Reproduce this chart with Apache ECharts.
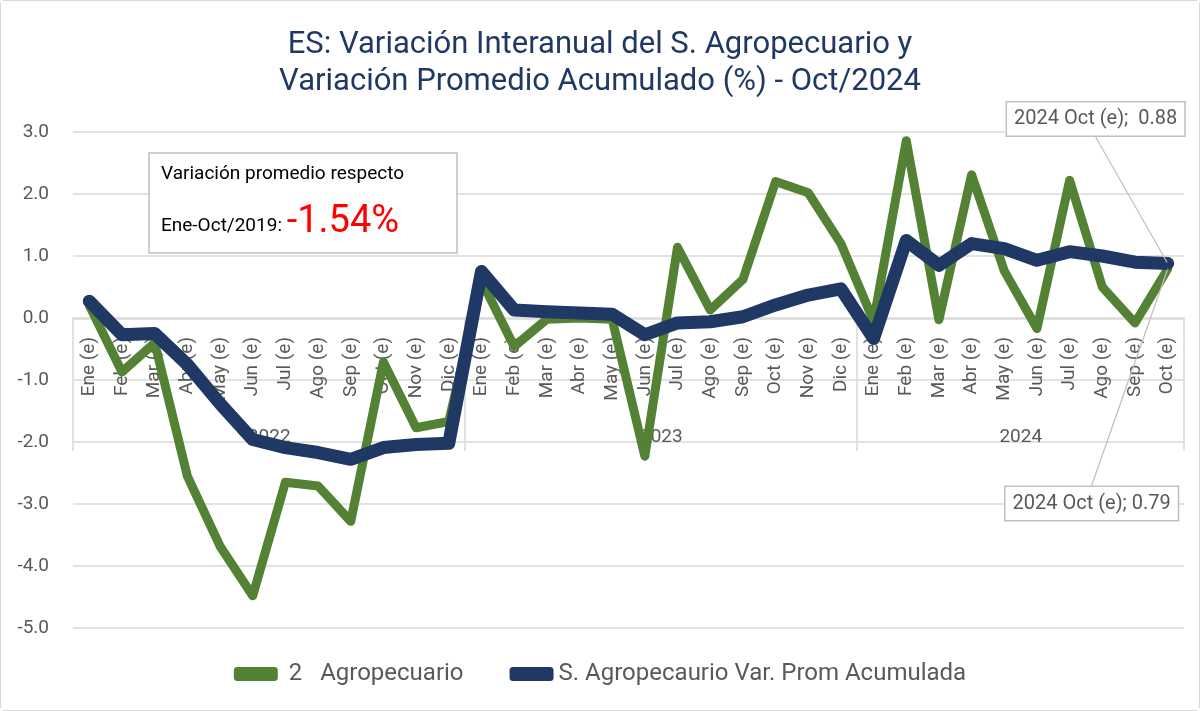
<!DOCTYPE html>
<html>
<head>
<meta charset="utf-8">
<script src="https://cdn.jsdelivr.net/npm/echarts@6/dist/echarts.min.js"></script>
<style>
  html, body { margin: 0; padding: 0; background: #fff; }
  #chart { width: 1200px; height: 711px; box-sizing: border-box; border: 1px solid #d9d9d9; border-radius: 4px; }
</style>
</head>
<body>
<div id="chart"></div>
<script>
// meses (e) de ene-2022 a oct-2024
const meses = ['Ene', 'Feb', 'Mar', 'Abr', 'May', 'Jun', 'Jul', 'Ago', 'Sep', 'Oct', 'Nov', 'Dic'];
const anios = ['2022', '2023', '2024'];
const mesesPorAnio = [12, 12, 10];

const agropecuario = [
  0.20, -0.87, -0.40, -2.55, -3.68, -4.48, -2.65, -2.71, -3.28, -0.71, -1.77, -1.67,
  0.60, -0.46, -0.02, 0.00, -0.02, -2.23, 1.14, 0.13, 0.62, 2.20, 2.02, 1.20,
  -0.05, 2.86, -0.03, 2.31, 0.76, -0.17, 2.22, 0.50, -0.08, 0.79
];
const promAcumulada = [
  0.27, -0.27, -0.25, -0.75, -1.38, -1.96, -2.09, -2.17, -2.28, -2.09, -2.04, -2.02,
  0.75, 0.13, 0.10, 0.08, 0.06, -0.27, -0.08, -0.06, 0.02, 0.21, 0.37, 0.47,
  -0.33, 1.25, 0.85, 1.20, 1.12, 0.93, 1.07, 1.00, 0.90, 0.88
];

const categorias = [];
const etiquetaAnio = [];
anios.forEach((a, i) => {
  for (let m = 0; m < mesesPorAnio[i]; m++) {
    categorias.push(meses[m] + ' (e)');
    etiquetaAnio.push(a);
  }
});

const FONT = 'Roboto, "DejaVu Sans Condensed", sans-serif';
const GRIS = '#595959';
const VERDE = '#548235';
const AZUL = '#1f3864';
const ult = categorias.length - 1;

// indices where a year starts, and the label spot (middle of each year)
const inicioAnio = [0, 12, 24];
const medioAnio = [5, 17, 28];

const etiquetaFinal = {
  show: true,
  fontFamily: FONT, fontSize: 20, color: GRIS,
  backgroundColor: '#fff', borderColor: '#bfbfbf', borderWidth: 1.5, padding: [7, 7, 6, 7]
};

// only the last point carries a (tiny) symbol so its callout label can show
function conEtiqueta(arr, sep) {
  return arr.map((v, i) => i === ult
    ? { value: v, symbol: 'circle', symbolSize: 2,
        label: Object.assign({ formatter: '2024 Oct (e);' + sep + v.toFixed(2) }, etiquetaFinal) }
    : v);
}

const chart = echarts.init(document.getElementById('chart'));
chart.setOption({
  backgroundColor: '#fff',
  animation: false,
  title: [{
    text: 'ES: Variación Interanual del S. Agropecuario y\nVariación Promedio Acumulado (%) - Oct/2024',
    left: 'center',
    top: 21,
    textStyle: { fontFamily: FONT, fontSize: 31, fontWeight: 'normal', color: AZUL, lineHeight: 37 }
  }, {
    text: '{a|Variación promedio respecto}\n{b|Ene-Oct/2019: }{c|-1.54%}',
    left: 148,
    top: 142,
    padding: [12, 53, 12, 12],
    borderColor: '#bfbfbf',
    borderWidth: 1.5,
    backgroundColor: '#fff',
    textStyle: {
      fontWeight: 'normal',
      rich: {
        a: { fontFamily: FONT, fontSize: 19, fontWeight: 'normal', color: '#000', lineHeight: 38 },
        b: { fontFamily: FONT, fontSize: 19, fontWeight: 'normal', color: '#000', lineHeight: 48,
             verticalAlign: 'bottom', padding: [0, 0, 5, 0] },
        c: { fontFamily: FONT, fontSize: 38, fontWeight: 'normal', color: '#ff0000', lineHeight: 48,
             verticalAlign: 'bottom' }
      }
    }
  }],
  legend: {
    bottom: 19,
    left: 'center',
    icon: 'roundRect',
    itemWidth: 44,
    itemHeight: 14,
    itemGap: 46,
    textStyle: { fontFamily: FONT, fontSize: 24, color: GRIS },
    data: [' 2   Agropecuario', 'S. Agropecaurio Var. Prom Acumulada']
  },
  grid: { left: 72, right: 15, top: 131, bottom: 82 },
  xAxis: [{
    // month axis, sits on the 0 line
    type: 'category',
    data: categorias,
    position: 'top',
    offset: -187,
    boundaryGap: true,
    axisLine: { onZero: false, lineStyle: { color: '#d9d9d9', width: 1.5 } },
    axisTick: { show: false },
    axisLabel: {
      inside: true,
      interval: 0,
      rotate: -90,
      margin: 18,
      fontFamily: FONT,
      fontSize: 19,
      color: GRIS
    }
  }, {
    // year axis, box below the months
    type: 'category',
    data: etiquetaAnio,
    position: 'bottom',
    offset: -177,
    boundaryGap: true,
    axisLine: { show: false, onZero: false },
    axisTick: {
      show: true,
      inside: true,
      length: 134,
      interval: (i) => inicioAnio.indexOf(i) >= 0,
      lineStyle: { color: '#d9d9d9', width: 1.5 }
    },
    axisLabel: {
      inside: true,
      margin: 4,
      interval: (i) => medioAnio.indexOf(i) >= 0,
      padding: [0, 0, 0, 33],
      fontFamily: FONT,
      fontSize: 19,
      color: GRIS
    }
  }],
  yAxis: {
    type: 'value',
    min: -5,
    max: 3,
    interval: 1,
    axisLine: { show: false },
    axisTick: { show: false },
    splitLine: { lineStyle: { color: '#d9d9d9', width: 1.5 } },
    axisLabel: {
      margin: 24,
      fontFamily: FONT,
      fontSize: 19,
      color: GRIS,
      formatter: (v) => v.toFixed(1)
    }
  },
  series: [{
    name: ' 2   Agropecuario',
    type: 'line',
    data: conEtiqueta(agropecuario, ' '),
    symbol: 'none',
    showSymbol: true,
    color: VERDE,
    lineStyle: { width: 9, color: VERDE, cap: 'round', join: 'round' },
    labelLine: { show: true, lineStyle: { color: '#bfbfbf', width: 1.2 } },
    labelLayout: (p) => p.dataIndex === ult ? { dx: -76, dy: 257 } : {}
  }, {
    name: 'S. Agropecaurio Var. Prom Acumulada',
    type: 'line',
    data: conEtiqueta(promAcumulada, '  '),
    symbol: 'none',
    showSymbol: true,
    color: AZUL,
    lineStyle: { width: 13, color: AZUL, cap: 'round', join: 'round' },
    labelLine: { show: true, lineStyle: { color: '#bfbfbf', width: 1.2 } },
    labelLayout: (p) => p.dataIndex === ult ? { dx: -72, dy: -122 } : {}
  }]
});
</script>
</body>
</html>
